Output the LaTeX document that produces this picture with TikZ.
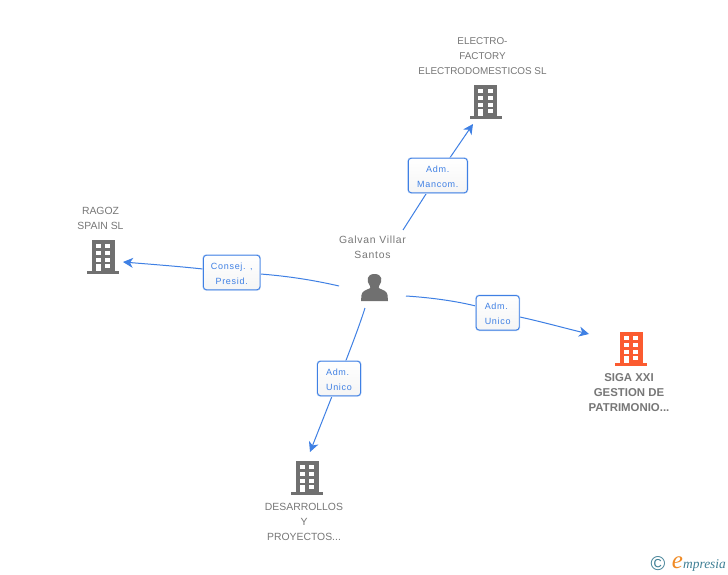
\documentclass[tikz,border=0pt]{standalone}
\usepackage{fontspec}
\setmainfont{Liberation Sans}
\newfontfamily\lblfont[LetterSpace=8]{Liberation Sans}
\newfontfamily\namefont[LetterSpace=7]{Liberation Sans}
\newfontfamily\logofont{Liberation Serif}
\usetikzlibrary{arrows.meta}
\definecolor{linkblue}{HTML}{3F80E4}
\definecolor{txtgray}{HTML}{777777}
\definecolor{bldgray}{HTML}{707070}
\definecolor{bldorange}{HTML}{FB5B30}
\definecolor{logoteal}{HTML}{3F7F95}
\definecolor{logoorange}{HTML}{F08A24}
\newcommand\toppad{\rule{0pt}{8.5pt}}
\tikzset{
  x=1pt,y=-1pt,
  entity/.style={align=center,text=txtgray,font=\fontsize{10.4}{15}\selectfont,inner sep=0pt},
  entitywide/.style={entity,font=\namefont\fontsize{10.4}{15}\selectfont},
  entitynarrow/.style={entity,font=\fontsize{9.9}{15}\selectfont},
  entitymain/.style={entity,font=\fontsize{11.4}{15}\selectfont\bfseries},
  rolebox/.style={draw=linkblue,line width=.9pt,rounded corners=3pt,inner sep=0pt,align=center,
    top color=white,bottom color=white!96!black,text=linkblue,
    font=\lblfont\fontsize{9}{15}\selectfont,
    preaction={draw=linkblue!35,line width=2pt,rounded corners=3pt}},
  link/.style={draw=linkblue,line width=1pt},
  linktip/.style={link,-{Stealth[length=10pt,width=10pt,inset=3pt]}},
  pics/bldg/.style={code={
    \fill[#1] (-11.5,0) rectangle (11.5,32);
    \fill[#1] (-16,31) rectangle (16,34);
    \foreach \yy in {4,11,17.7}{
      \fill[white] (-7.5,\yy) rectangle (-2.5,\yy+4.3);
      \fill[white] (2,\yy) rectangle (7,\yy+4.3);}
    \fill[white] (-7.5,24) rectangle (-2.5,31);
    \fill[white] (2,24) rectangle (7,28.3);
  }},
}
\begin{document}
\begin{tikzpicture}
\useasboundingbox (0,0) rectangle (728,575);
\fill[white] (0,0) rectangle (728,575);

% buildings
\pic at (485.5,85) {bldg=bldgray};
\pic at (103,240) {bldg=bldgray};
\pic at (631,332) {bldg=bldorange};
\pic at (307,461) {bldg=bldgray};

% person
\fill[bldgray] (361,301) -- (361.5,295) .. controls (362,291) and (366,290) .. (369.5,288.5)
  .. controls (370.5,288) and (370.5,287) .. (370,286)
  .. controls (366,281) and (366.5,274) .. (374.5,274)
  .. controls (382.5,274) and (383,281) .. (379,286)
  .. controls (378.5,287) and (378.5,288) .. (379.5,288.5)
  .. controls (383,290) and (387,291) .. (387.5,295) -- (388,301) -- cycle;

% texts
\node[entitynarrow] (electro) at (482.5,56) {ELECTRO-\\FACTORY\\ELECTRODOMESTICOS SL};
\node[entity] (ragoz) at (100.5,218.5) {RAGOZ\\SPAIN SL};
\node[entitywide] (galvan) at (372.5,247) {Galvan Villar\\Santos};
\node[entitymain] (siga) at (629,393) {SIGA XXI\\GESTION DE\\PATRIMONIO...};
\node[entity] (desarrollos) at (304,522) {DESARROLLOS\\Y\\PROYECTOS...};

% connector ends
\coordinate (pE) at (403,230);
\coordinate (bE) at (473,124);
\coordinate (pR) at (339,286);
\coordinate (bR) at (123,262);
\coordinate (pS) at (406,296);
\coordinate (bS) at (589,334);
\coordinate (pD) at (365,308);
\coordinate (bD) at (310,452);

% connectors
\coordinate (lE) at (437.8,175.5);
\coordinate (lR) at (231.7,272.5);
\coordinate (lS) at (497.7,312.8);
\coordinate (lD) at (339,378.5);
\draw[link] (pE) -- (lE);
\draw[linktip] (lE) -- (bE);
\draw[link] (pR) .. controls (300,277) and (265,273.5) .. (lR);
\draw[linktip] (lR) .. controls (200,268) and (160,265) .. (bR);
\draw[link] (pS) .. controls (430,297.5) and (470,302) .. (lS);
\draw[linktip] (lS) .. controls (525,317) and (560,327) .. (bS);
\draw[link] (pD) .. controls (358,330) and (348,355) .. (lD);
\draw[linktip] (lD) -- (bD);

% role labels
\node[rolebox,minimum width=59pt,minimum height=34.5pt] (rE) at (lE) {\toppad Adm.\\Mancom.};
\node[rolebox,minimum width=56.5pt,minimum height=34.5pt] (rR) at (lR) {\toppad Consej. ,\\Presid.};
\node[rolebox,minimum width=43pt,minimum height=34.5pt,align=left] (rS) at (lS) {\toppad Adm.\\Unico};
\node[rolebox,minimum width=43pt,minimum height=34.5pt,align=left] (rD) at (lD) {\toppad Adm.\\Unico};

% logo
\node[inner sep=0pt,text=logoteal,font=\fontsize{20}{20}\selectfont] (copy) at (658,564) {©};
\node[inner sep=0pt,text=logoorange,font=\logofont\itshape\fontsize{25}{25}\selectfont] (logoe) at (677.5,563) {e};
\node[inner sep=0pt,anchor=base west,text=logoteal,font=\logofont\itshape\fontsize{13.4}{14}\selectfont] (logom) at (683,568) {mpresia};
\end{tikzpicture}
\end{document}
